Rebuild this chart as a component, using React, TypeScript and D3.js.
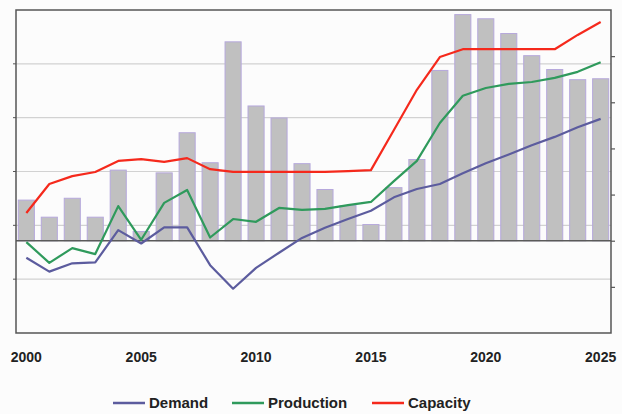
import { useRef, useEffect } from 'react'
import * as d3 from 'd3'

const WIDTH = 622
const HEIGHT = 414
const PLOT = { left: 16, right: 611, top: 10, bottom: 333 }

// years on the x axis
const years = [
  2000, 2001, 2002, 2003, 2004, 2005, 2006, 2007, 2008, 2009, 2010, 2011, 2012,
  2013, 2014, 2015, 2016, 2017, 2018, 2019, 2020, 2021, 2022, 2023, 2024, 2025,
]
const yearTicks = [2000, 2005, 2010, 2015, 2020, 2025]

// grey bars (right axis units)
const barValues = [
  0.88, 0.51, 0.92, 0.51, 1.53, 0.2, 1.47, 2.34, 1.69, 4.31, 2.92, 2.66, 1.67,
  1.11, 0.76, 0.35, 1.15, 1.76, 3.69, 4.9, 4.81, 4.49, 4.01, 3.71, 3.49, 3.51,
]

const demand = [
  -0.37, -0.67, -0.49, -0.47, 0.23, -0.06, 0.29, 0.29, -0.53, -1.04, -0.59, -0.26, 0.06,
  0.28, 0.47, 0.65, 0.94, 1.12, 1.23, 1.46, 1.68, 1.87, 2.07, 2.25, 2.46, 2.64,
]
const production = [
  -0.03, -0.48, -0.16, -0.29, 0.75, 0.02, 0.82, 1.1, 0.07, 0.47, 0.41, 0.71, 0.67,
  0.69, 0.77, 0.84, 1.29, 1.73, 2.55, 3.14, 3.31, 3.4, 3.44, 3.53, 3.66, 3.87,
]
const capacity = [
  0.6, 1.23, 1.4, 1.49, 1.73, 1.77, 1.71, 1.79, 1.55, 1.49, 1.49, 1.49, 1.49,
  1.49, 1.51, 1.53, 2.4, 3.27, 3.98, 4.15, 4.15, 4.15, 4.15, 4.15, 4.46, 4.74,
]

const SERIES = [
  { name: 'Demand', values: demand, color: '#5c5c9e' },
  { name: 'Production', values: production, color: '#2f9a5c' },
  { name: 'Capacity', values: capacity, color: '#f5291c' },
]

const rightTicks = [-1, 0, 1, 2, 3, 4]
const leftGrid = [1, 2, 3, 4, 5]

export default function App() {
  const svgRef = useRef<SVGSVGElement>(null)

  useEffect(() => {
    if (!svgRef.current) return
    const svg = d3.select(svgRef.current)
    svg.selectAll('*').remove()
    svg.attr('width', WIDTH).attr('height', HEIGHT)

    svg.append('rect').attr('width', WIDTH).attr('height', HEIGHT).attr('fill', '#fcfcfc')

    const x = d3
      .scaleBand<number>()
      .domain(years)
      .range([PLOT.left, PLOT.right])
      .paddingInner(0.3)
      .paddingOuter(0.1)
    const cx = (yr: number) => (x(yr) ?? 0) + x.bandwidth() / 2

    const y = d3.scaleLinear().domain([-2, 5]).range([PLOT.bottom, PLOT.top])
    // left axis only drives the grid lines
    const yLeft = d3.scaleLinear().domain([0, 6]).range([PLOT.bottom, PLOT.top])

    // grid
    svg
      .append('g')
      .selectAll('line')
      .data(leftGrid)
      .join('line')
      .attr('x1', PLOT.left)
      .attr('x2', PLOT.right)
      .attr('y1', (d) => yLeft(d))
      .attr('y2', (d) => yLeft(d))
      .attr('stroke', '#d2d2d2')
      .attr('stroke-width', 1.2)

    // left ticks
    svg
      .append('g')
      .selectAll('line')
      .data(leftGrid)
      .join('line')
      .attr('x1', PLOT.left - 3)
      .attr('x2', PLOT.left)
      .attr('y1', (d) => yLeft(d))
      .attr('y2', (d) => yLeft(d))
      .attr('stroke', '#555')

    // bars
    svg
      .append('g')
      .selectAll('rect')
      .data(years)
      .join('rect')
      .attr('x', (yr) => x(yr) ?? 0)
      .attr('width', x.bandwidth())
      .attr('y', (_, i) => y(barValues[i]))
      .attr('height', (_, i) => y(0) - y(barValues[i]))
      .attr('fill', '#c0c0c0')
      .attr('stroke', '#b6a8dc')
      .attr('stroke-width', 1)

    // zero line
    svg
      .append('line')
      .attr('x1', PLOT.left)
      .attr('x2', PLOT.right)
      .attr('y1', y(0))
      .attr('y2', y(0))
      .attr('stroke', '#5a5a5a')
      .attr('stroke-width', 1.5)

    // lines
    const line = d3
      .line<number>()
      .x((_, i) => cx(years[i]))
      .y((d) => y(d))
    SERIES.forEach((s) => {
      svg
        .append('path')
        .datum(s.values)
        .attr('d', line)
        .attr('fill', 'none')
        .attr('stroke', s.color)
        .attr('stroke-width', 2.2)
        .attr('stroke-linejoin', 'round')
    })

    // plot border
    svg
      .append('rect')
      .attr('x', PLOT.left)
      .attr('y', PLOT.top)
      .attr('width', PLOT.right - PLOT.left)
      .attr('height', PLOT.bottom - PLOT.top)
      .attr('fill', 'none')
      .attr('stroke', '#555')
      .attr('stroke-width', 1.5)

    // right axis ticks
    svg
      .append('g')
      .attr('transform', `translate(${PLOT.right},0)`)
      .call(d3.axisRight(y).tickValues(rightTicks).tickSize(4).tickFormat(() => ''))
      .call((axis) => {
        axis.select('.domain').remove()
        axis.selectAll('.tick line').attr('stroke', '#555').attr('stroke-width', 1.2)
      })

    // x axis labels
    svg
      .append('g')
      .attr('transform', `translate(0,${PLOT.bottom})`)
      .call(
        d3
          .axisBottom(x)
          .tickValues(yearTicks)
          .tickSize(0)
          .tickPadding(19),
      )
      .call((axis) => {
        axis.select('.domain').remove()
        axis
          .selectAll('text')
          .attr('fill', '#222')
          .style('font-family', '"Liberation Sans", Arial, sans-serif')
          .style('font-size', '14px')
          .style('font-weight', 'bold')
      })

    // legend
    const legendX = [113, 232, 372]
    const legend = svg.append('g').attr('transform', 'translate(0,403)')
    SERIES.forEach((s, i) => {
      const g = legend.append('g').attr('transform', `translate(${legendX[i]},0)`)
      g.append('line')
        .attr('x1', 0)
        .attr('x2', 32)
        .attr('stroke', s.color)
        .attr('stroke-width', 2.5)
      g.append('text')
        .attr('x', 36)
        .attr('dy', '0.36em')
        .attr('fill', '#222')
        .style('font-family', '"Liberation Sans", Arial, sans-serif')
        .style('font-size', '15px')
        .style('font-weight', 'bold')
        .text(s.name)
    })
  }, [])

  return <svg ref={svgRef} style={{ position: 'absolute', left: 0, top: 0, display: 'block' }} />
}
